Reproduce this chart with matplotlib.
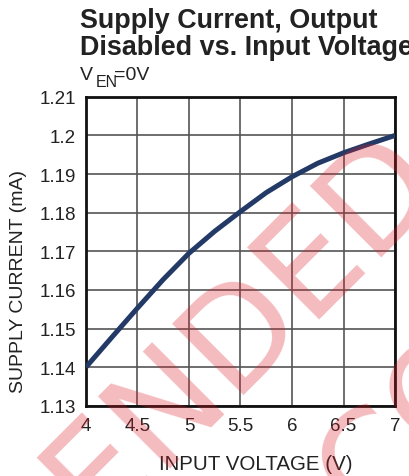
import matplotlib
matplotlib.use('Agg')
import matplotlib.pyplot as plt

# data
vin = [4.0, 4.25, 4.5, 4.75, 5.0, 5.25, 5.5, 5.75, 6.0, 6.25, 6.5, 6.75, 7.0]
supply_ma = [1.140, 1.1477, 1.1553, 1.1627, 1.1695, 1.1752, 1.1803, 1.1852,
             1.1893, 1.1928, 1.1955, 1.1978, 1.2000]
x_ticks = [4, 4.5, 5, 5.5, 6, 6.5, 7]
x_tick_labels = ['4', '4.5', '5', '5.5', '6', '6.5', '7']
y_ticks = [1.13, 1.14, 1.15, 1.16, 1.17, 1.18, 1.19, 1.20, 1.21]
y_tick_labels = ['1.13', '1.14', '1.15', '1.16', '1.17', '1.18', '1.19', '1.2', '1.21']

plt.rcParams['font.family'] = ['Liberation Sans', 'DejaVu Sans']
ink = '#222222'

fig = plt.figure(figsize=(4.09, 4.77), dpi=100)
ax = fig.add_axes([0.210, 0.147, 0.756, 0.648])

ax.plot(vin, supply_ma, color='#233a66', linewidth=3.6, solid_capstyle='butt', zorder=3)

ax.set_xlim(4, 7)
ax.set_ylim(1.13, 1.21)
ax.set_xticks(x_ticks)
ax.set_xticklabels(x_tick_labels)
ax.set_yticks(y_ticks)
ax.set_yticklabels(y_tick_labels)
ax.tick_params(length=0, labelsize=13.5, colors=ink)
ax.tick_params(axis='x', pad=8)
ax.tick_params(axis='y', pad=7)
ax.grid(True, color='#555555', linewidth=1.2)
for s in ax.spines.values():
    s.set_linewidth(2.0)
    s.set_color('#111111')

ax.set_xlabel('INPUT VOLTAGE (V)', fontsize=14.8, color=ink)
ax.xaxis.set_label_coords(0.55, -0.155)
ax.set_ylabel('SUPPLY CURRENT (mA)', fontsize=14, color=ink)
ax.yaxis.set_label_coords(-0.191, 0.405)

# title block
fig.text(0.196, 1 - 28 / 477, 'Supply Current, Output', fontsize=19.4, fontweight='bold',
         color=ink, va='baseline')
fig.text(0.196, 1 - 55 / 477, 'Disabled vs. Input Voltage', fontsize=19.4, fontweight='bold',
         color=ink, va='baseline')
fig.text(80 / 409, 1 - 80 / 477, 'V', fontsize=14, color=ink, va='baseline')
fig.text(95.5 / 409, 1 - 87 / 477, 'EN', fontsize=11.5, color=ink, va='baseline')
fig.text(114 / 409, 1 - 80 / 477, '=0V', fontsize=14, color=ink, va='baseline')

# watermark
fig.text(95 / 409, 1 - 530 / 477, 'ENDED', fontsize=100, rotation=45,
         rotation_mode='anchor', ha='left', va='baseline',
         color='#dc1e28', alpha=0.3, family='DejaVu Sans', zorder=5)
fig.text(368 / 409, 1 - 528 / 477, 'CO', fontsize=100, rotation=45,
         rotation_mode='anchor', ha='left', va='baseline',
         color='#dc1e28', alpha=0.3, family='DejaVu Sans', zorder=5)

fig.savefig('out.png', dpi=100)
